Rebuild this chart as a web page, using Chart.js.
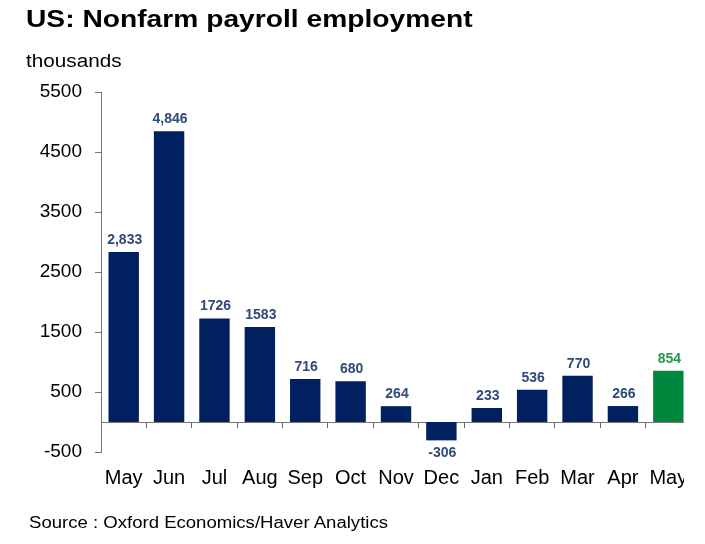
<!DOCTYPE html>
<html>
<head>
<meta charset="utf-8">
<script src="https://cdn.jsdelivr.net/npm/chart.js@4/dist/chart.umd.min.js"></script>
<style>
  body { margin: 0; background: #fff; font-family: Arial, "Liberation Sans", sans-serif; }
  #wrap { position: relative; width: 705px; height: 544px; overflow: hidden; }
  #clip { position: absolute; left: 0; top: 0; width: 684px; height: 544px; overflow: hidden; }
  #box { position: absolute; left: 0; top: 0; width: 720px; height: 544px; }
  .txt { position: absolute; transform-origin: left top; white-space: nowrap; color: #000; }
  .title { left: 26px; top: 5px; font-size: 24px; font-weight: bold; transform: scaleX(1.175); }
  .units { left: 26px; top: 51px; font-size: 18px; transform: scaleX(1.15); }
  .source { left: 29px; top: 514px; font-size: 16px; transform: scaleX(1.16); }
</style>
</head>
<body>
<div id="wrap">
  <div id="clip"><div id="box"><canvas id="myChart"></canvas></div></div>
  <div class="txt title">US: Nonfarm payroll employment</div>
  <div class="txt units">thousands</div>
  <div class="txt source">Source : Oxford Economics/Haver Analytics</div>
</div>
<script>
const months = ['May', 'Jun', 'Jul', 'Aug', 'Sep', 'Oct', 'Nov', 'Dec', 'Jan', 'Feb', 'Mar', 'Apr', 'May'];
const payrolls = [2833, 4846, 1726, 1583, 716, 680, 264, -306, 233, 536, 770, 266, 854];
const valueLabels = ['2,833', '4,846', '1726', '1583', '716', '680', '264', '-306', '233', '536', '770', '266', '854'];
const yTicks = [5500, 4500, 3500, 2500, 1500, 500, -500];

const navy = '#002060';
const green = '#00873E';
const barColors = payrolls.map((v, i) => i === payrolls.length - 1 ? green : navy);
const labelColors = payrolls.map((v, i) => i === payrolls.length - 1 ? '#1F9A4B' : '#2F4A78');

const valueLabelPlugin = {
  id: 'valueLabels',
  afterDatasetsDraw(chart) {
    const ctx = chart.ctx;
    const meta = chart.getDatasetMeta(0);
    ctx.save();
    ctx.font = 'bold 14px Arial, "Liberation Sans", sans-serif';
    ctx.textAlign = 'center';
    meta.data.forEach((bar, i) => {
      ctx.fillStyle = labelColors[i];
      if (payrolls[i] >= 0) {
        ctx.textBaseline = 'bottom';
        ctx.fillText(valueLabels[i], bar.x + 1, bar.y - 5);
      } else {
        ctx.textBaseline = 'top';
        ctx.fillText(valueLabels[i], bar.x + 1, bar.y + 6);
      }
    });
    ctx.restore();
  }
};

const ctx = document.querySelector('#myChart').getContext('2d');

new Chart(ctx, {
  type: 'bar',
  data: {
    labels: months,
    datasets: [{
      data: payrolls,
      backgroundColor: barColors,
      barPercentage: 0.67,
      categoryPercentage: 1
    }]
  },
  options: {
    responsive: true,
    maintainAspectRatio: false,
    animation: false,
    layout: { padding: { top: 92, right: 29, bottom: 52, left: 0 } },
    plugins: { legend: { display: false }, tooltip: { enabled: false } },
    scales: {
      x: {
        position: 'bottom',
        grid: { display: false },
        border: { display: false },
        ticks: { color: '#000', font: { size: 20, family: 'Arial' }, padding: 6, maxRotation: 0, autoSkip: false },
        afterFit: (scale) => { scale.height = 40; }
      },
      x2: {
        type: 'category',
        labels: months,
        position: { y: 0 },
        offset: true,
        grid: { offset: true, drawOnChartArea: false, drawTicks: true, tickLength: 5, color: '#666' },
        border: { display: true, color: '#777', width: 1 },
        ticks: { display: false }
      },
      y: {
        min: -500,
        max: 5500,
        afterBuildTicks: (scale) => { scale.ticks = yTicks.map(v => ({ value: v })); },
        grid: { drawOnChartArea: false, drawTicks: true, tickLength: 6, color: '#777' },
        border: { display: true, color: '#777', width: 1 },
        ticks: { color: '#000', font: { size: 19, family: 'Arial' }, padding: 13, callback: (v) => String(v) },
        afterFit: (scale) => { scale.width = 101; }
      }
    }
  },
  plugins: [valueLabelPlugin]
});
</script>
</body>
</html>
